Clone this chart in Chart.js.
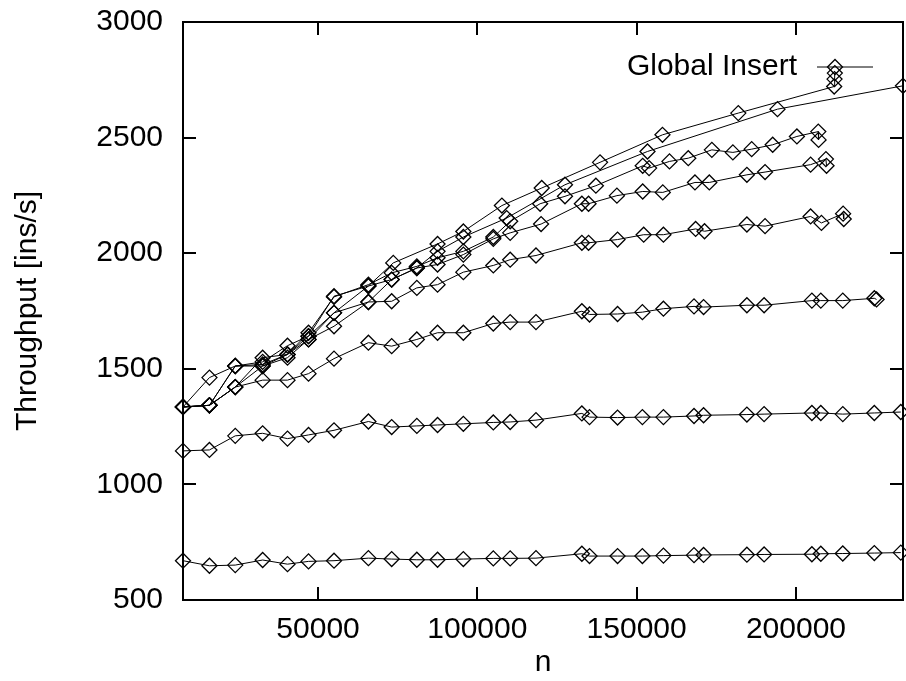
<!DOCTYPE html>
<html>
<head>
<meta charset="utf-8">
<title>Global Insert</title>
<script src="https://cdn.jsdelivr.net/npm/chart.js@4.4.1/dist/chart.umd.min.js"></script>
<style>
  html, body { margin: 0; padding: 0; background: #fff; }
  canvas { display: block; }
</style>
</head>
<body>
<canvas id="chart" width="906" height="681"></canvas>
<script>
// tick labels
var xTicks = [50000, 100000, 150000, 200000];
var yTicks = [500, 1000, 1500, 2000, 2500, 3000];

// n values of the two flat runs (shared)
var nFlat = [7600, 15900, 24000, 32600, 40400, 47000, 55000, 65800, 73100, 81000, 87500, 95600, 105000, 110300, 118400,
             132800, 135200, 144000, 151800, 158400, 168000, 171000, 184600, 190000, 205000, 207800, 214700, 224600, 232900];
var ins1 = [670, 648, 651, 673, 655, 667, 670, 681, 677, 674, 674, 677, 680, 680, 681,
            700, 690, 690, 690, 692, 694, 695, 696, 697, 698, 700, 701, 703, 705];
var ins2 = [1145, 1149, 1210, 1221, 1198, 1214, 1234, 1272, 1248, 1253, 1257, 1262, 1268, 1270, 1278,
            1307, 1291, 1289, 1291, 1291, 1296, 1299, 1302, 1304, 1309, 1309, 1304, 1309, 1313];

var n3 = [7600, 15900, 24000, 32600, 40400, 47000, 55000, 65800, 73100, 81000, 87500, 95600, 105000, 110300, 118400,
          132800, 135200, 144000, 151800, 158400, 168000, 171000, 184600, 190000, 205000, 207800, 214700, 224600, 225300];
var ins3 = [1335, 1342, 1421, 1451, 1451, 1479, 1544, 1613, 1598, 1627, 1656, 1656, 1696, 1702, 1702,
            1749, 1735, 1737, 1745, 1760, 1770, 1767, 1775, 1775, 1795, 1795, 1795, 1805, 1800];

var n4 = [7600, 15900, 24000, 32600, 40400, 47000, 55000, 65800, 73100, 81000, 87500, 95600, 105000, 110300, 118400,
          132800, 134900, 144000, 152200, 158400, 168500, 171300, 184600, 190300, 204600, 208000, 214800, 215000];
var ins4 = [1335, 1342, 1421, 1512, 1562, 1627, 1684, 1789, 1792, 1850, 1864, 1918, 1947, 1972, 1990,
            2045, 2045, 2059, 2080, 2080, 2105, 2095, 2124, 2117, 2159, 2131, 2171, 2148];

var n5 = [7600, 15900, 24000, 32600, 40400, 47000, 55000, 65800, 73100, 81000, 87500, 95600, 105000, 110300, 120000,
          132800, 134900, 143800, 151900, 158200, 168300, 172800, 184600, 190300, 204600, 209400, 209600];
var ins5 = [1335, 1342, 1512, 1519, 1562, 1641, 1742, 1858, 1886, 1936, 1951, 1994, 2062, 2088, 2126,
            2214, 2214, 2249, 2267, 2263, 2306, 2306, 2339, 2351, 2383, 2407, 2378];

var n6 = [7600, 15900, 24000, 32600, 40400, 47000, 55000, 65800, 73100, 81000, 87500, 95600, 105000, 110300, 119700,
          127500, 137200, 151900, 153900, 160300, 166200, 173600, 180200, 186100, 192700, 200300, 207000, 207100];
var ins6 = [1335, 1342, 1421, 1548, 1562, 1656, 1811, 1864, 1915, 1943, 1980, 2008, 2070, 2138, 2214,
            2246, 2292, 2378, 2368, 2397, 2411, 2447, 2436, 2450, 2469, 2505, 2526, 2490];

var n7 = [7600, 15900, 24000, 32600, 40400, 47000, 55000, 65800, 73600, 87500, 95600, 107700, 120200, 138500,
          158100, 181900, 212000, 212100, 212200];
var ins7 = [1335, 1462, 1512, 1530, 1600, 1641, 1814, 1858, 1958, 2040, 2094, 2206, 2282, 2393,
            2512, 2606, 2721, 2753, 2779];

var n8 = [7600, 15900, 24000, 32600, 40400, 47000, 55000, 65800, 73100, 81000, 87500, 95600, 109200, 127500,
          153400, 194200, 233600];
var ins8 = [1335, 1342, 1512, 1512, 1548, 1627, 1742, 1789, 1886, 1936, 2008, 2070, 2152, 2296,
            2440, 2623, 2724];

var runs = [[nFlat, ins1], [nFlat, ins2], [n3, ins3], [n4, ins4], [n5, ins5], [n6, ins6], [n7, ins7], [n8, ins8]];

var fontFamily = '"Liberation Sans", Arial, Helvetica, sans-serif';
var tickLen = 13;

function toPoints(ns, vs) {
  return ns.map(function(n, i) { return {x: n, y: vs[i]}; });
}

var datasets = runs.map(function(r) {
  return {
    label: 'Global Insert',
    data: toPoints(r[0], r[1]),
    showLine: true,
    borderColor: '#000',
    borderWidth: 1,
    pointStyle: 'rectRot',
    pointRadius: 7.5,
    pointBorderWidth: 1.3,
    pointBorderColor: '#000',
    pointBackgroundColor: 'rgba(0,0,0,0)',
    clip: false
  };
});

// gnuplot style box, inward mirrored tics and the key
var frame = {
  id: 'frame',
  afterDraw: function(chart) {
    var ctx = chart.ctx, a = chart.chartArea;
    var xs = chart.scales.x, ys = chart.scales.y;
    ctx.save();
    ctx.strokeStyle = '#000';
    ctx.lineWidth = 2;
    ctx.strokeRect(a.left, a.top, a.right - a.left, a.bottom - a.top);
    ctx.beginPath();
    xTicks.forEach(function(v) {
      var px = Math.round(xs.getPixelForValue(v));
      ctx.moveTo(px, a.bottom); ctx.lineTo(px, a.bottom - tickLen);
      ctx.moveTo(px, a.top); ctx.lineTo(px, a.top + tickLen);
    });
    yTicks.forEach(function(v) {
      var py = Math.round(ys.getPixelForValue(v));
      ctx.moveTo(a.left, py); ctx.lineTo(a.left + tickLen, py);
      ctx.moveTo(a.right, py); ctx.lineTo(a.right - tickLen, py);
    });
    ctx.stroke();

    // key
    var ky = a.top + 45;
    ctx.fillStyle = '#000';
    ctx.font = '30px ' + fontFamily;
    ctx.textAlign = 'right';
    ctx.textBaseline = 'middle';
    ctx.fillText('Global Insert', a.right - 106, ky);
    ctx.lineWidth = 1;
    ctx.beginPath();
    ctx.moveTo(a.right - 86, ky); ctx.lineTo(a.right - 30, ky);
    ctx.stroke();
    var kx = a.right - 68, r = 7.5;
    ctx.lineWidth = 1.3;
    ctx.beginPath();
    ctx.moveTo(kx - r, ky); ctx.lineTo(kx, ky - r); ctx.lineTo(kx + r, ky); ctx.lineTo(kx, ky + r);
    ctx.closePath();
    ctx.stroke();
    ctx.restore();
  }
};

new Chart(document.getElementById('chart'), {
  type: 'scatter',
  data: {datasets: datasets},
  options: {
    responsive: false,
    animation: false,
    devicePixelRatio: 1,
    layout: {autoPadding: false, padding: {top: 22, right: 3, left: 0, bottom: 0}},
    plugins: {legend: {display: false}, tooltip: {enabled: false}},
    scales: {
      x: {
        type: 'linear',
        min: 7600,
        max: 233600,
        afterBuildTicks: function(s) { s.ticks = xTicks.map(function(v) { return {value: v}; }); },
        afterFit: function(s) { s.height = 81; s.paddingLeft = 0; s.paddingRight = 0; },
        grid: {display: false, drawTicks: false},
        border: {display: false},
        ticks: {color: '#000', font: {family: fontFamily, size: 30}, padding: 12, maxRotation: 0,
                callback: function(v) { return String(v); }},
        title: {display: true, text: 'n', color: '#000', font: {family: fontFamily, size: 30},
                padding: {top: 0, bottom: 0}}
      },
      y: {
        type: 'linear',
        min: 500,
        max: 3000,
        afterBuildTicks: function(s) { s.ticks = yTicks.map(function(v) { return {value: v}; }); },
        afterFit: function(s) { s.width = 183; s.paddingTop = 0; s.paddingBottom = 0; },
        grid: {display: false, drawTicks: false},
        border: {display: false},
        ticks: {color: '#000', font: {family: fontFamily, size: 30}, padding: 20,
                callback: function(v) { return String(v); }},
        title: {display: true, text: 'Throughput [ins/s]', color: '#000', font: {family: fontFamily, size: 30},
                padding: {top: 10, bottom: 0}}
      }
    }
  },
  plugins: [frame]
});
</script>
</body>
</html>
